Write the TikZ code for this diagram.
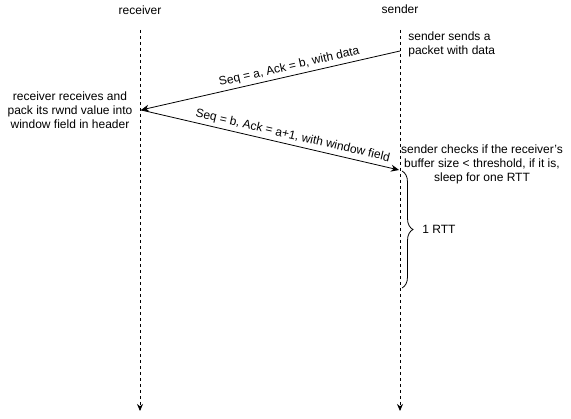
\documentclass[tikz,border=0pt]{standalone}
\usepackage{fontspec}
\setmainfont{Liberation Sans}
\usetikzlibrary{arrows.meta,decorations.pathreplacing}

\begin{document}
\begin{tikzpicture}[x=1pt,y=-1pt,line width=0.8pt,
		font=\fontsize{12}{14}\selectfont,
		lifeline/.style={dash pattern=on 3pt off 3pt, -{Stealth[length=7pt,width=6pt]}},
		msg/.style={-{Stealth[length=8pt,width=7pt]}},
		msglabel/.style={sloped, above, inner sep=3pt},
		note/.style={align=center, inner sep=0pt}]
		\useasboundingbox (0,0) rectangle (571,419);

		\draw (140,10) node (recv) {receiver};
		\draw (400,9) node (send) {sender};
		\coordinate (recvtop) at (140,30);
		\coordinate (recvbot) at (140,411);
		\coordinate (sendtop) at (400,30);
		\coordinate (sendbot) at (400,411);

		\coordinate (s1) at (400,51);
		\coordinate (r1) at (141,110);
		\coordinate (s2) at (399,170);
		\coordinate (bracetop) at (402,171);
		\coordinate (bracebot) at (402,288);

		\draw (70,110) node [note] (recvnote) {receiver receives and\\pack its rwnd value into\\window field in header};
		\draw (408,44) node [note, align=left, anchor=west] (sendnote) {sender sends a\\packet with data};
		\draw (482,164) node [note] (checknote) {sender checks if the receiver{\char39}s\\buffer size < threshold, if it is,\\sleep for one RTT};
		\draw (422,229) node [note, anchor=west] (rtt) {1 RTT};

		\draw
			(recvtop) edge [lifeline] (recvbot)
			(sendtop) edge [lifeline] (sendbot)
			(s1) edge [msg] node [msglabel, pos=0.42] {Seq = a, Ack = b, with data} (r1)
			(r1) edge [msg] node [msglabel, pos=0.58] {Seq = b, Ack = a+1, with window field} (s2)
		;
		\draw [decorate, decoration={brace, amplitude=11pt}] (bracetop) -- (bracebot);
	\end{tikzpicture}
\end{document}
